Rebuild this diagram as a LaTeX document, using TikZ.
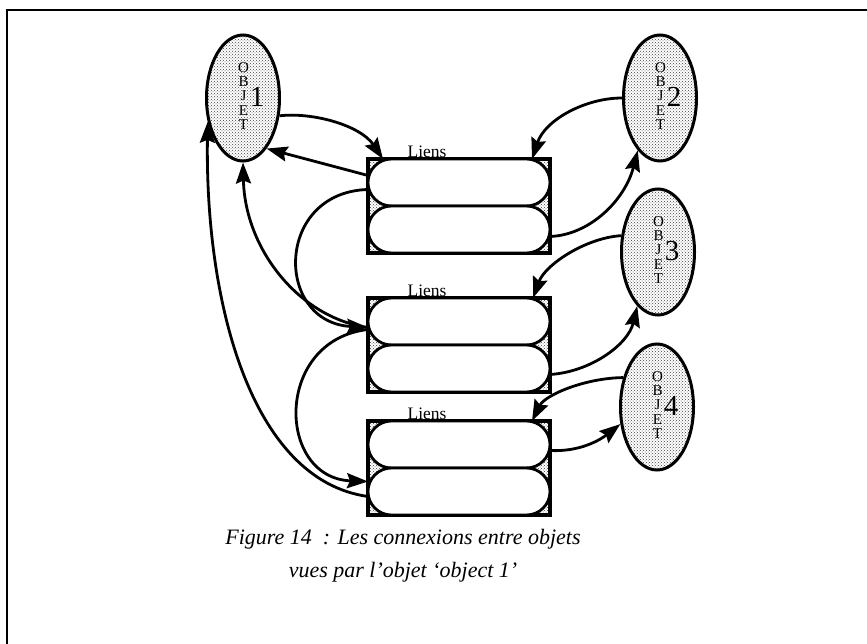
\documentclass[tikz,border=0pt]{standalone}
\usepackage{fontspec}
\setmainfont{Liberation Serif}
\usetikzlibrary{shapes,arrows.meta,positioning,patterns}
\tikzset{
  %Define standard arrow tip
  >={Stealth[length=21pt,width=15pt,inset=3pt]},
  %Define style for the objects
  objet/.style={
    ellipse,
    draw=black, line width=3pt,
    pattern=crosshatch dots, pattern color=black!75,
    minimum width=73pt,
    minimum height=126pt,
    inner sep=0pt},
  %Define style for the lists of links
  liste/.style={
    rectangle,
    draw=black, line width=3.2pt,
    pattern=crosshatch dots, pattern color=black!75,
    minimum width=182pt,
    minimum height=94pt,
    outer sep=0pt},
  %Define style for one link
  bulle/.style={
    rectangle,
    rounded corners=23.5pt,
    draw=black, line width=2.8pt,
    fill=white,
    minimum width=182pt,
    minimum height=47pt,
    outer sep=0pt},
  % Define arrow style
  fleche/.style={
    ->,
    line width=2.8pt},
  titre/.style={
    font=\fontsize{17.5}{17.5}\selectfont,
    anchor=base,
    inner sep=0pt},
  legende/.style={
    font=\fontsize{22}{22}\selectfont\itshape,
    anchor=base,
    inner sep=0pt}
}
\newcommand{\objtexte}[1]{%
  \hphantom{\fontsize{29}{29}\selectfont #1}\hspace{2pt}%
  {\fontsize{15}{14.2}\selectfont\begin{tabular}[c]{@{}c@{}}O\\B\\J\\E\\T\end{tabular}}%
  \hspace{1pt}\raisebox{-5pt}{\fontsize{29}{29}\selectfont #1}}

\begin{document}
\begin{tikzpicture}[x=1pt,y=-1pt]
  \useasboundingbox (0,0) rectangle (867,644);
  \draw[line width=2.6pt] (7,644) -- (7,10) -- (867,10);

  % objects
  \node[objet] (obj1) at (243,98) {\objtexte{1}};
  \node[objet] (obj2) at (660,98) {\objtexte{2}};
  \node[objet] (obj3) at (658,252) {\objtexte{3}};
  \node[objet] (obj4) at (657,407) {\objtexte{4}};

  % lists of links
  \node[liste] (liens1) at (459,206) {};
  \node[liste, below=45pt of liens1] (liens2) {};
  \node[liste, below=29pt of liens2] (liens3) {};
  \foreach \n in {1,2,3} {
    \node[bulle, anchor=north] (liens\n a) at (liens\n.north) {};
    \node[bulle, anchor=south] (liens\n b) at (liens\n.south) {};
    \node[titre] (titre\n) at ([xshift=59pt,yshift=1.5pt]liens\n.north west) {Liens};
  }

  % links of object 1
  \draw[fleche] (obj1.-26) .. controls (312,112) and (360,125) .. ([xshift=15pt]liens1.north west);
  \draw[fleche] ([yshift=7pt]liens1a.west) -- (obj1.-65);
  \draw[fleche] ([yshift=-7pt]liens1a.west) .. controls (275,192) and (274,322) .. ([yshift=-6pt]liens2a.west);
  \draw[fleche] ([yshift=-6pt]liens2a.west) .. controls (300,318) and (245,250) .. (obj1.south);
  \draw[fleche] ([yshift=-8pt]liens2a.west) .. controls (274,340) and (276,478) .. ([yshift=10pt]liens3b.west);
  \draw[fleche] ([yshift=-5pt]liens3b.west) .. controls (250,480) and (205,300) .. (obj1.214);

  % links of the other objects
  \draw[fleche] (obj2.west) .. controls (585,98) and (545,120) .. ([xshift=-18pt]liens1a.north east);
  \draw[fleche] ([yshift=-7pt]liens1b.east) .. controls (590,235) and (625,200) .. (obj2.247);
  \draw[fleche] (obj3.156) .. controls (585,238) and (545,265) .. ([xshift=-17pt]liens2a.north east);
  \draw[fleche] ([yshift=-6pt]liens2b.east) .. controls (590,372) and (628,345) .. (obj3.249);
  \draw[fleche] (obj4.139) .. controls (585,378) and (545,395) .. ([xshift=-18pt]liens3a.north east);
  \draw[fleche] ([yshift=-6pt]liens3a.east) .. controls (580,452) and (600,440) .. (obj4.205);

  % caption
  \node[legende] (leg1) at (403,544) {Figure 14\ \ : Les connexions entre objets};
  \node[legende] (leg2) at (403,577) {vues par l’objet ‘object 1’};
\end{tikzpicture}
\end{document}
